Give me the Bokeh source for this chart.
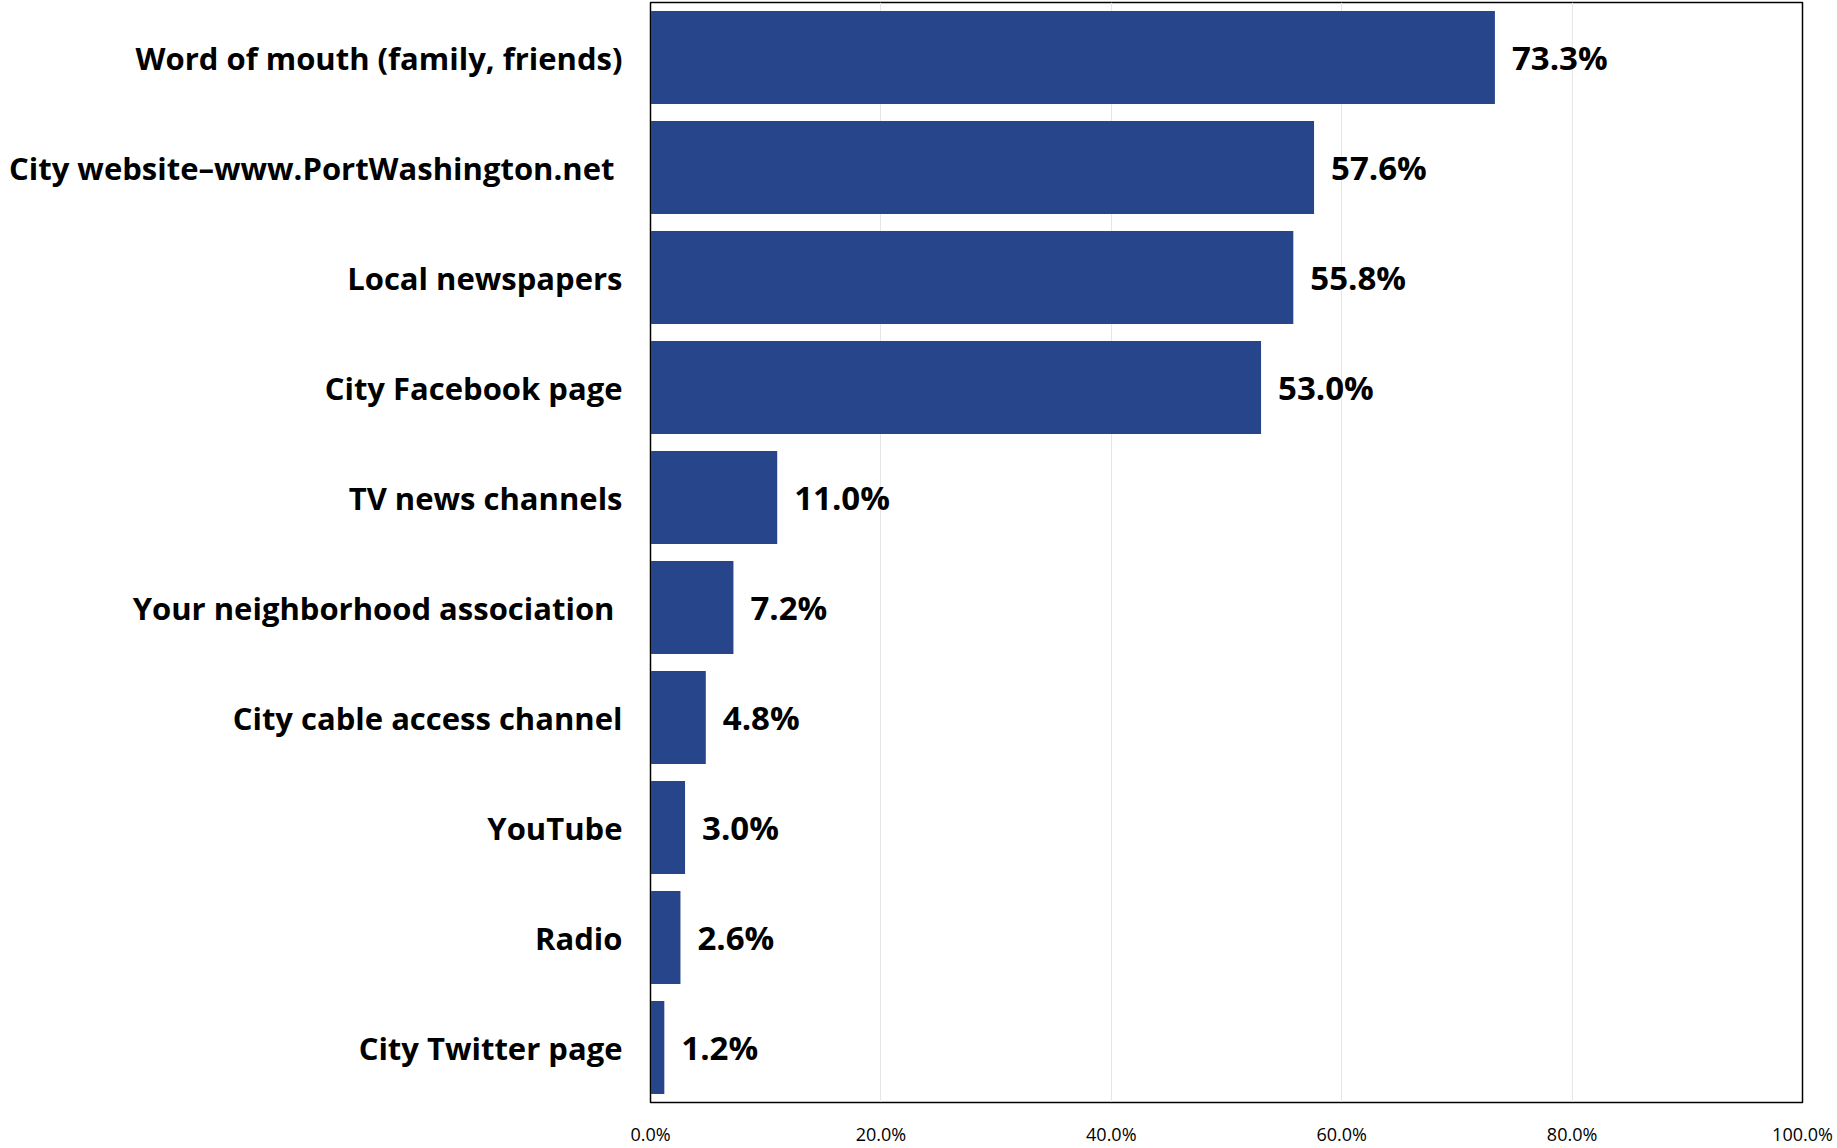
from bokeh.plotting import figure
from bokeh.models import FactorRange, Range1d, NumeralTickFormatter, FixedTicker, ColumnDataSource
from bokeh.embed import file_html
from bokeh.resources import INLINE
from bokeh.core.properties import value

categories = ["Word of mouth (family, friends)", "City website\u2013www.PortWashington.net ", "Local newspapers",
              "City Facebook page", "TV news channels", "Your neighborhood association ",
              "City cable access channel", "YouTube", "Radio", "City Twitter page"]
values = [0.733, 0.576, 0.558, 0.530, 0.110, 0.072, 0.048, 0.030, 0.026, 0.012]
labels = ["73.3%", "57.6%", "55.8%", "53.0%", "11.0%", "7.2%", "4.8%", "3.0%", "2.6%", "1.2%"]

FONT = "Open Sans"
src = ColumnDataSource(dict(cat=categories, val=values, lab=labels))

p = figure(width=1837, height=1148, output_backend="svg", toolbar_location=None,
           y_range=FactorRange(factors=categories[::-1]), x_range=Range1d(0, 1.0),
           min_border_left=650, min_border_right=35, min_border_top=2, min_border_bottom=0)

p.hbar(y="cat", right="val", height=0.845, source=src, color="#27458B", line_color=None)
p.text(x="val", y="cat", text="lab", source=src, x_offset=17, text_baseline="middle",
       text_font=value(FONT), text_font_style="bold", text_font_size="33px", text_color="#000000")

p.xaxis.ticker = FixedTicker(ticks=[0, 0.2, 0.4, 0.6, 0.8, 1.0])
p.xaxis.formatter = NumeralTickFormatter(format="0.0%")
p.xaxis.major_label_text_font = FONT
p.xaxis.major_label_text_font_size = "18px"
p.xaxis.major_label_text_color = "#000000"
p.xaxis.major_label_standoff = 13
p.xaxis.major_tick_line_color = None
p.xaxis.minor_tick_line_color = None
p.xaxis.axis_line_color = "#000000"

p.yaxis.major_label_text_font = FONT
p.yaxis.major_label_text_font_style = "bold"
p.yaxis.major_label_text_font_size = "31px"
p.yaxis.major_label_text_color = "#000000"
p.yaxis.major_label_standoff = 22
p.yaxis.major_tick_line_color = None
p.yaxis.minor_tick_line_color = None
p.yaxis.axis_line_color = "#000000"

p.xgrid.grid_line_color = "#E6E6E6"
p.ygrid.grid_line_color = None
p.outline_line_color = "#000000"
p.outline_line_width = 1.5
p.background_fill_color = "white"

open("out.html", "w").write(file_html(p, INLINE))
